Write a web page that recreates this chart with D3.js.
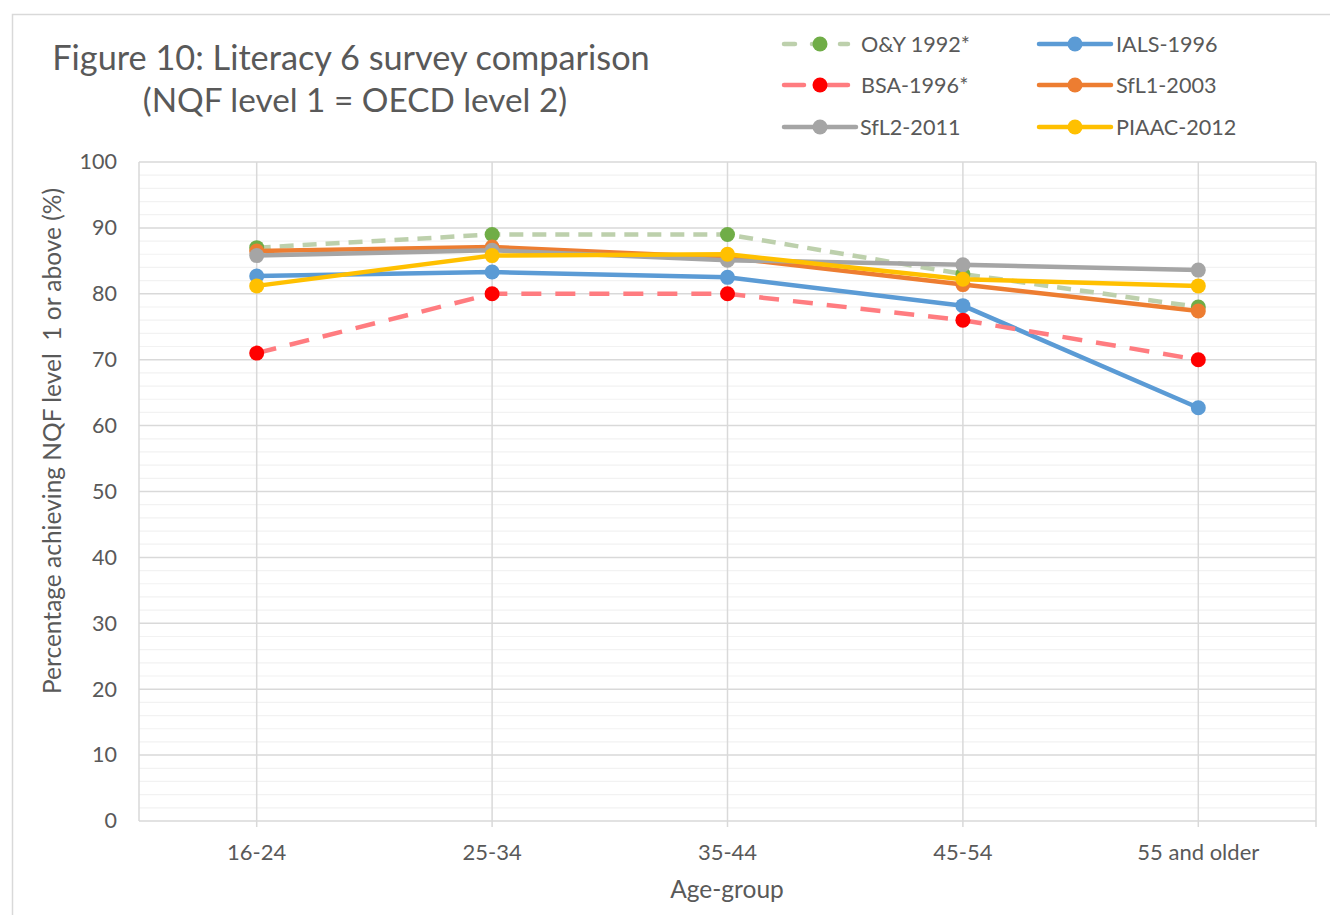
<!DOCTYPE html>
<html><head><meta charset="utf-8">
<script src="https://cdn.jsdelivr.net/npm/d3@7"></script>
<style>
html,body{margin:0;padding:0;background:#fff;}
text{font-family:Lato,"Open Sans",sans-serif;fill:#595959;}
</style></head>
<body>
<svg id="chart" width="1330" height="915"></svg>
<script>
const categories = ["16-24","25-34","35-44","45-54","55 and older"];
const seriesNames = ["O&Y 1992*","IALS-1996","BSA-1996*","SfL1-2003","SfL2-2011","PIAAC-2012"];
const oy1992   = [87, 89, 89, 83, 78];
const ials1996 = [82.7, 83.3, 82.5, 78.2, 62.7];
const bsa1996  = [71, 80, 80, 76, 70];
const sfl12003 = [86.5, 87.1, 85.5, 81.4, 77.4];
const sfl22011 = [85.8, 86.6, 85.1, 84.4, 83.6];
const piaac2012= [81.2, 85.8, 86.0, 82.2, 81.2];
const yTicks = [0,10,20,30,40,50,60,70,80,90,100];

const series = [
  {name:seriesNames[0], values:oy1992,   line:"#BDD0AC", marker:"#70AD47", dash:"14,9"},
  {name:seriesNames[1], values:ials1996, line:"#5B9BD5", marker:"#5B9BD5", dash:null},
  {name:seriesNames[2], values:bsa1996,  line:"#FF7C80", marker:"#FF0000", dash:"20,14"},
  {name:seriesNames[3], values:sfl12003, line:"#ED7D31", marker:"#ED7D31", dash:null},
  {name:seriesNames[4], values:sfl22011, line:"#A5A5A5", marker:"#A5A5A5", dash:null},
  {name:seriesNames[5], values:piaac2012,line:"#FFC000", marker:"#FFC000", dash:null}
];

const svg = d3.select("#chart");
const L = 139, R = 1316, T = 162, B = 821;

// outer frame
svg.append("rect").attr("x",12.5).attr("y",14.5).attr("width",1340).attr("height",920)
  .attr("fill","none").attr("stroke","#d9d9d9").attr("stroke-width",1.5);

const x = d3.scaleBand().domain(categories).range([L,R]).paddingInner(0).paddingOuter(0);
const y = d3.scaleLinear().domain([0,100]).range([B,T]);
const cx = c => x(c) + x.bandwidth()/2;

const g = svg.append("g");
// minor gridlines
const minor = d3.range(0,101,2).filter(v => v%10 !== 0);
g.selectAll("line.minor").data(minor).join("line")
  .attr("x1",L).attr("x2",R).attr("y1",d=>y(d)).attr("y2",d=>y(d))
  .attr("stroke","#f2f2f2").attr("stroke-width",1.2);
// major gridlines
g.selectAll("line.major").data(yTicks).join("line")
  .attr("x1",L).attr("x2",R).attr("y1",d=>y(d)).attr("y2",d=>y(d))
  .attr("stroke","#d9d9d9").attr("stroke-width",1.5);
// vertical gridlines at categories and right edge
g.selectAll("line.vert").data(categories).join("line")
  .attr("x1",d=>cx(d)).attr("x2",d=>cx(d)).attr("y1",T).attr("y2",B+6)
  .attr("stroke","#d9d9d9").attr("stroke-width",1.5);
g.append("line").attr("x1",R).attr("x2",R).attr("y1",T).attr("y2",B+6)
  .attr("stroke","#d9d9d9").attr("stroke-width",1.5);
g.append("line").attr("x1",L).attr("x2",L).attr("y1",T).attr("y2",B)
  .attr("stroke","#d9d9d9").attr("stroke-width",1.5);

// y axis labels
const yAxis = d3.axisLeft(y).tickValues(yTicks).tickSize(0).tickPadding(22);
const ya = svg.append("g").attr("transform",`translate(${L},0)`).call(yAxis);
ya.select(".domain").remove();
ya.selectAll("text").style("font-size","21.5px").style("fill","#595959").style("font-family","Lato");

// x axis labels
const xAxis = d3.axisBottom(x).tickSize(0).tickPadding(23);
const xa = svg.append("g").attr("transform",`translate(0,${B})`).call(xAxis);
xa.select(".domain").remove();
xa.selectAll("text").style("font-size","22px").style("fill","#595959").style("font-family","Lato");

// axis titles
svg.append("text").attr("x",727).attr("y",898).attr("text-anchor","middle")
  .style("font-size","24.5px").text("Age-group");
svg.append("text").attr("transform","translate(61,441) rotate(-90)").attr("text-anchor","middle")
  .style("font-size","24.5px").attr("xml:space","preserve").style("white-space","pre")
  .text("Percentage achieving NQF level  1 or above (%)");

// title
svg.append("text").attr("x",351).attr("y",70).attr("text-anchor","middle")
  .style("font-size","34.3px").text("Figure 10: Literacy 6 survey comparison");
svg.append("text").attr("x",355).attr("y",112).attr("text-anchor","middle")
  .style("font-size","33.3px").text("(NQF level 1 = OECD level 2)");

// series
const line = d3.line().x((d,i)=>cx(categories[i])).y(d=>y(d));
series.forEach(s => {
  const sg = svg.append("g");
  sg.append("path").attr("d",line(s.values)).attr("fill","none")
    .attr("stroke",s.line).attr("stroke-width",4.5).attr("stroke-linejoin","round")
    .attr("stroke-linecap", s.dash ? "butt" : "round")
    .attr("stroke-dasharray", s.dash);
  sg.selectAll("circle").data(s.values).join("circle")
    .attr("cx",(d,i)=>cx(categories[i])).attr("cy",d=>y(d)).attr("r",7.5)
    .attr("fill",s.marker);
});

// legend
const legendPos = [
  {x1:784,x2:848,mx:820,tx:861,y:44},
  {x1:1039,x2:1111,mx:1075,tx:1116,y:44},
  {x1:784,x2:848,mx:820,tx:861,y:85},
  {x1:1039,x2:1111,mx:1075,tx:1116,y:85},
  {x1:784,x2:856,mx:820,tx:860,y:127},
  {x1:1039,x2:1111,mx:1075,tx:1116,y:127}
];
series.forEach((s,i) => {
  const p = legendPos[i];
  const lg = svg.append("g");
  lg.append("line").attr("x1",p.x1).attr("x2",p.x2).attr("y1",p.y).attr("y2",p.y)
    .attr("stroke",s.line).attr("stroke-width",4.5)
    .attr("stroke-linecap","round")
    .attr("stroke-dasharray", s.dash ? (i===0 ? "11,17" : "20,24") : null);
  lg.append("circle").attr("cx",p.mx).attr("cy",p.y).attr("r",7.5).attr("fill",s.marker);
  lg.append("text").attr("x",p.tx).attr("y",p.y+8).style("font-size","21.6px").text(s.name);
});
</script>
</body></html>
